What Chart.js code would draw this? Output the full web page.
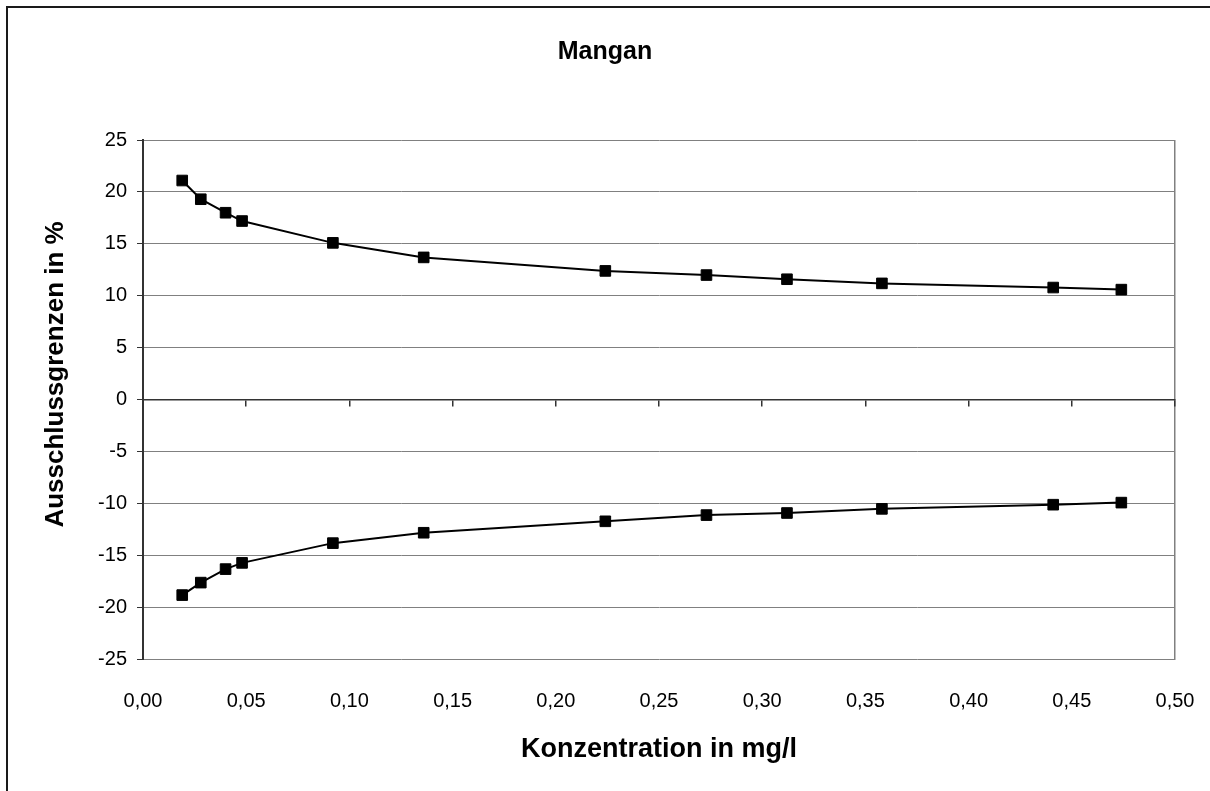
<!DOCTYPE html>
<html>
<head>
<meta charset="utf-8">
<script src="https://cdn.jsdelivr.net/npm/chart.js@4/dist/chart.umd.min.js"></script>
<style>
	html, body { margin: 0; padding: 0; background: #fff; }
	canvas { display: block; }
</style>
</head>
<body>
<canvas id="mangan-chart" width="1210" height="791"></canvas>
<script>
// 데이터 (Konzentration in mg/l)
var konzentration = [0.019, 0.028, 0.040, 0.048, 0.092, 0.136, 0.224, 0.273, 0.312, 0.358, 0.441, 0.474];
// obere Ausschlussgrenze in %
var obereGrenze = [21.1, 19.3, 18.0, 17.2, 15.1, 13.7, 12.4, 12.0, 11.6, 11.2, 10.8, 10.6];
// untere Ausschlussgrenze in %
var untereGrenze = [-18.8, -17.6, -16.3, -15.7, -13.8, -12.8, -11.7, -11.1, -10.9, -10.5, -10.1, -9.9];
// tick labels
var xTicks = [0, 0.05, 0.10, 0.15, 0.20, 0.25, 0.30, 0.35, 0.40, 0.45, 0.50];
var yTicks = [-25, -20, -15, -10, -5, 0, 5, 10, 15, 20, 25];

var FONT = '"Liberation Sans", Arial, sans-serif';
var MangChart;

// outer frame like the original sheet
var framePlugin = {
	id : 'frame',
	afterDraw : function(chart) {
		var ctx = chart.ctx;
		ctx.save();
		ctx.strokeStyle = '#1a1a1a';
		ctx.lineWidth = 2;
		ctx.beginPath();
		ctx.moveTo(7, chart.height + 5);
		ctx.lineTo(7, 7);
		ctx.lineTo(chart.width + 5, 7);
		ctx.stroke();
		ctx.restore();
	}
};

/**
 * 뷰 초기화
 */
function initView() {
	createChart();
}

/**
 * 점 목록 만들기
 */
function toPoints(xs, ys) {
	var arr = [];
	for (var i = 0; i < xs.length; i++) {
		arr.push({ x : xs[i], y : ys[i] });
	}
	return arr;
}

function setTicks(list) {
	return function(scale) {
		scale.ticks = list.map(function(v) { return { value : v }; });
	};
}

/**
 * 차트 생성하기
 */
function createChart() {
	var canvas = document.getElementById('mangan-chart');

	var series = {
		showLine : true,
		borderColor : '#000',
		borderWidth : 2,
		backgroundColor : '#000',
		pointStyle : 'rect',
		pointRadius : 7.5,
		pointBorderWidth : 1,
		pointBorderColor : '#000',
		pointBackgroundColor : '#000',
		tension : 0
	};

	MangChart = new Chart(canvas, {
		type : 'scatter',
		data : {
			datasets : [
				Object.assign({ label : 'obere Grenze', data : toPoints(konzentration, obereGrenze) }, series),
				Object.assign({ label : 'untere Grenze', data : toPoints(konzentration, untereGrenze) }, series)
			]
		},
		plugins : [ framePlugin ],
		options : {
			responsive : false,
			animation : false,
			layout : {
				padding : { left : 0, right : 0, top : 0, bottom : 0 }
			},
			plugins : {
				legend : { display : false },
				tooltip : { enabled : false },
				title : {
					display : true,
					text : 'Mangan',
					color : '#000',
					font : { family : FONT, size : 25, weight : 'bold' },
					padding : { top : 37, bottom : 73 }
				}
			},
			scales : {
				x : {
					type : 'linear',
					position : 'bottom',
					min : 0,
					max : 0.5,
					afterBuildTicks : setTicks(xTicks),
					afterFit : function(scale) { scale.height = 131.5; },
					border : { display : false },
					grid : {
						drawTicks : true,
						tickLength : 23,
						tickColor : 'rgba(0,0,0,0)',
						lineWidth : 1.5,
						color : function(c) {
							return c.tick && c.tick.value === 0.5 ? '#808080' : 'rgba(0,0,0,0)';
						}
					},
					ticks : {
						color : '#000',
						padding : 7,
						maxRotation : 0,
						font : { family : FONT, size : 20 },
						callback : function(v) { return v.toFixed(2).replace('.', ','); }
					},
					title : {
						display : true,
						text : 'Konzentration in mg/l',
						color : '#000',
						font : { family : FONT, size : 27, weight : 'bold' },
						padding : { top : 0, bottom : 25 }
					}
				},
				x2 : {
					type : 'linear',
					position : { y : 0 },
					min : 0,
					max : 0.5,
					afterBuildTicks : setTicks(xTicks),
					border : { display : true, color : '#333', width : 1.5 },
					grid : {
						drawOnChartArea : false,
						drawTicks : true,
						tickLength : 6,
						color : '#333',
						lineWidth : 1.5
					},
					ticks : { display : false }
				},
				y : {
					type : 'linear',
					position : 'left',
					min : -25,
					max : 25,
					afterBuildTicks : setTicks(yTicks),
					afterFit : function(scale) { scale.width = 143; },
					border : { display : true, color : '#333', width : 2 },
					grid : {
						color : '#808080',
						lineWidth : 1,
						drawTicks : true,
						tickLength : 6,
						tickColor : '#333'
					},
					ticks : {
						color : '#000',
						padding : 10,
						font : { family : FONT, size : 20 },
						callback : function(v) { return String(v); }
					},
					title : {
						display : true,
						// leading blanks lift the label a bit, as in the original
						text : '       Ausschlussgrenzen in %',
						color : '#000',
						font : { family : FONT, size : 26, weight : 'bold' },
						padding : { top : 40, bottom : 0 }
					}
				},
				// empty right margin box
				yRand : {
					type : 'linear',
					position : 'right',
					min : -25,
					max : 25,
					afterFit : function(scale) { scale.width = 35; },
					border : { display : false },
					grid : { display : false },
					ticks : { display : false }
				}
			}
		}
	});
}

initView();
</script>
</body>
</html>
